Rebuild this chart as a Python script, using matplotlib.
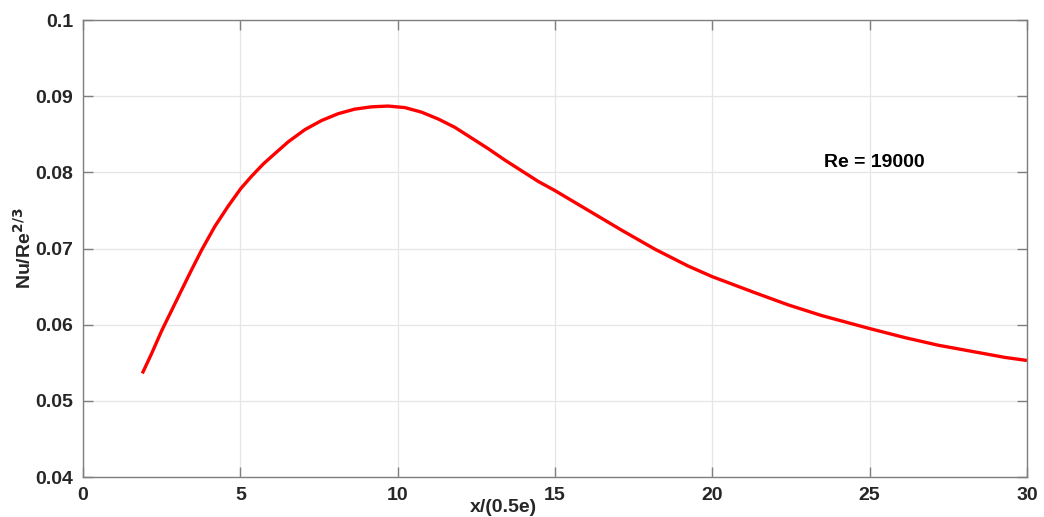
import matplotlib
matplotlib.use("Agg")
import matplotlib.pyplot as plt

# values
x_vals = [1.885, 2.18, 2.50, 2.82, 3.14, 3.45, 3.77, 4.19, 4.62, 5.02, 5.36, 5.73,
          6.00, 6.52, 7.05, 7.58, 8.11, 8.64, 9.17, 9.70, 10.23, 10.76, 11.29,
          11.82, 12.35, 12.88, 13.41, 13.94, 14.47, 15.0, 16.06, 17.12, 18.18,
          19.23, 20.0, 21.35, 22.41, 23.47, 24.99, 26.12, 27.18, 28.24, 29.30, 30.0]
nu_vals = [0.0536, 0.0562, 0.0592, 0.0619, 0.0646, 0.0672, 0.0698, 0.0729, 0.0756,
           0.0779, 0.0795, 0.0811, 0.0821, 0.0840, 0.0856, 0.0868, 0.0877, 0.0883,
           0.0886, 0.0887, 0.0885, 0.0879, 0.0870, 0.0859, 0.0845, 0.0831, 0.0816,
           0.0802, 0.0788, 0.0776, 0.0750, 0.0724, 0.0699, 0.0677, 0.0663, 0.0642,
           0.0626, 0.0612, 0.0595, 0.0583, 0.0573, 0.0565, 0.0557, 0.0553]
x_ticks = [0, 5, 10, 15, 20, 25, 30]
y_ticks = [0.04, 0.05, 0.06, 0.07, 0.08, 0.09, 0.1]
y_tick_labels = ["0.04", "0.05", "0.06", "0.07", "0.08", "0.09", "0.1"]

plt.rcParams["font.family"] = ["Liberation Sans", "DejaVu Sans"]
plt.rcParams["font.weight"] = "bold"

fig = plt.figure(figsize=(10.44, 5.17), dpi=100)
ax = fig.add_axes([83 / 1044, 40 / 517, 944 / 1044, 457 / 517])

ax.plot(x_vals, nu_vals, color="#ff0000", linewidth=2.4,
        solid_joinstyle="round", solid_capstyle="butt")
ax.set_xlim(0, 30)
ax.set_ylim(0.04, 0.1)
ax.set_xticks(x_ticks)
ax.set_yticks(y_ticks)
ax.set_yticklabels(y_tick_labels)
ax.grid(True, color="#e6e6e6", linewidth=0.9)
ax.set_axisbelow(True)

for s in ax.spines.values():
    s.set_color("#7f7f7f")
    s.set_linewidth(1.0)
ax.tick_params(direction="in", length=7, width=1, color="#7f7f7f",
               top=True, right=True, labelsize=14, labelcolor="#262626", pad=7)
for lbl in ax.get_xticklabels() + ax.get_yticklabels():
    lbl.set_fontweight("bold")

ax.set_xlabel("x/(0.5e)", fontsize=14, fontweight="bold", color="#262626")
ax.xaxis.set_label_coords(0.445, -0.048)
ax.set_ylabel(r"Nu/Re$^{\mathbf{2/3}}$", fontsize=14, fontweight="bold", color="#262626")
ax.yaxis.set_label_coords(-0.051, 0.5)

ax.text(23.55, 0.0813, "Re = 19000", fontsize=14, fontweight="bold",
        color="#000000", va="center", ha="left")

fig.savefig("out.png", dpi=100)
